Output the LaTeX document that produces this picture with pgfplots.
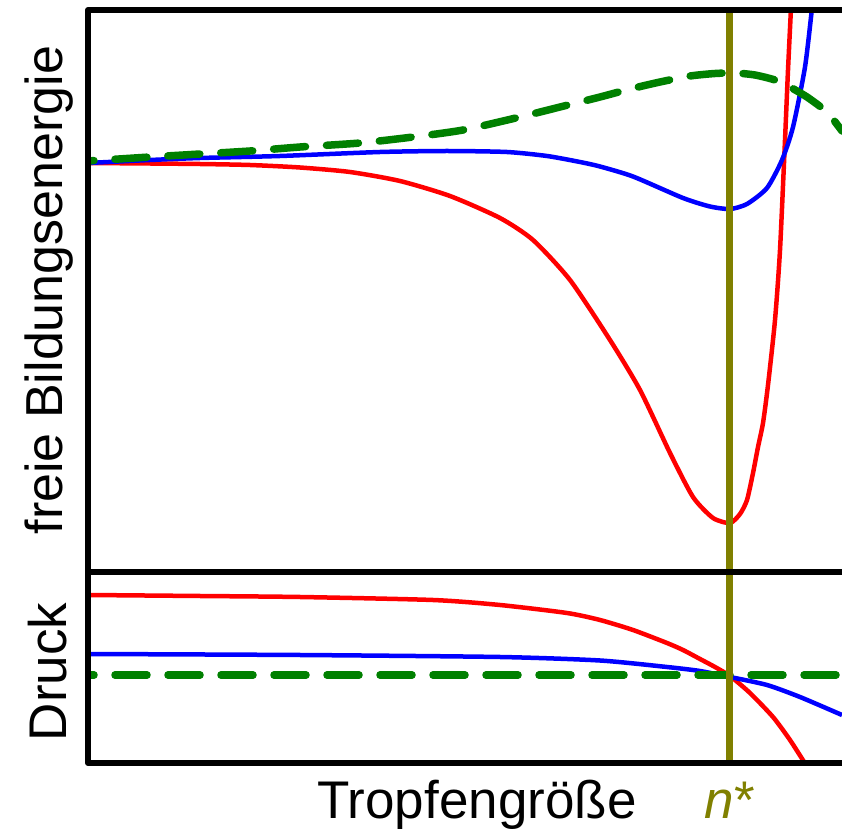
\documentclass[border=0pt]{standalone}
\usepackage{fontspec}
\setmainfont{Liberation Sans}
\usepackage{pgfplots}
\pgfplotsset{compat=1.18}
\definecolor{cred}{RGB}{255,0,0}
\definecolor{cblue}{RGB}{0,0,255}
\definecolor{cgreen}{RGB}{0,128,0}
\definecolor{colive}{RGB}{128,128,0}
\begin{document}
\begin{tikzpicture}
\useasboundingbox (0,0) rectangle (842bp,830bp);
\pgfplotsset{
  panel/.style={scale only axis, width=754bp, xmin=88, xmax=842, y dir=reverse, hide axis, anchor=south west},
  redline/.style={color=cred, line width=4.5bp, line join=round, smooth, tension=0.4},
  blueline/.style={color=cblue, line width=4.5bp, line join=round, smooth, tension=0.4},
  greenline/.style={color=cgreen, line width=7.5bp, line cap=round, smooth, tension=0.4, dash pattern=on 32bp off 21bp, dash phase=26bp},
  oliveline/.style={color=colive, line width=7bp, line cap=round},
}
% top panel: free energy of formation
\begin{axis}[panel, at={(88bp,258bp)}, height=562bp, ymin=10, ymax=572]
\addplot[redline] coordinates {
(88,163) (150,163.5) (200,164) (250,165) (300,167.5) (350,172) (400,181) (450,196) (500,218)
(533,240) (570,280) (610,340) (640,390) (670,453) (693,497) (713,518) (730,523)
(740,514) (747,500) (753,473) (758,447) (763,423) (768,385) (775,320) (780,250)
(785,140) (788,70) (791,8)};
\addplot[blueline] coordinates {
(88,163) (150,160) (200,158) (280,156) (380,152) (447,151) (507,152) (547,156)
(580,162) (600,166.5) (633,176.5) (683,198) (710,206.5) (730,209) (747,204)
(767,188) (782,160) (793,127) (805,67) (812,8)};
\addplot[greenline] coordinates {
(88,161) (150,157) (200,154) (250,151) (300,147) (360,143) (413,137) (463,130)
(520,117) (560,107) (600,97) (630,89) (660,82) (690,76) (715,73.5) (735,73)
(755,75) (775,80) (790,87) (807,97) (822,108) (832,118) (842,131)};
\addplot[oliveline] coordinates {(729,13) (729,572)};
\end{axis}
% bottom panel: pressure
\begin{axis}[panel, at={(88bp,67bp)}, height=191bp, ymin=572, ymax=763]
\addplot[redline] coordinates {
(88,595) (200,596) (300,597) (433,600) (500,605) (567,613) (600,620) (633,630)
(667,643) (683,650) (700,659) (715,667) (730,676) (750,693) (773,717) (790,740) (806,765)};
\addplot[blueline] coordinates {
(88,654) (300,655) (500,657) (600,660.5) (667,667) (700,671) (730,677) (767,685)
(800,697) (842,715)};
\addplot[greenline] coordinates {(88,675) (842,675)};
\addplot[oliveline] coordinates {(729,572) (729,761)};
\end{axis}
% frame
\draw[line width=6bp, line cap=round, line join=round] (845bp,820bp) -- (88bp,820bp) -- (88bp,67bp) -- (845bp,67bp);
\draw[line width=6bp] (88bp,258bp) -- (845bp,258bp);
% labels
\node[rotate=90, anchor=base, inner sep=0pt, font=\fontsize{52bp}{60bp}\selectfont] at (62bp,540bp) {freie Bildungsenergie};
\node[rotate=90, anchor=base, inner sep=0pt, font=\fontsize{53bp}{60bp}\selectfont] at (66bp,158bp) {Druck};
\node[anchor=base, inner sep=0pt, font=\fontsize{53bp}{60bp}\selectfont] at (477bp,12bp) {Tropfengröße};
\node[anchor=base, inner sep=0pt, text=colive, font=\fontsize{53bp}{60bp}\selectfont] at (730bp,12bp) {\textit{n}*};
\end{tikzpicture}
\end{document}
